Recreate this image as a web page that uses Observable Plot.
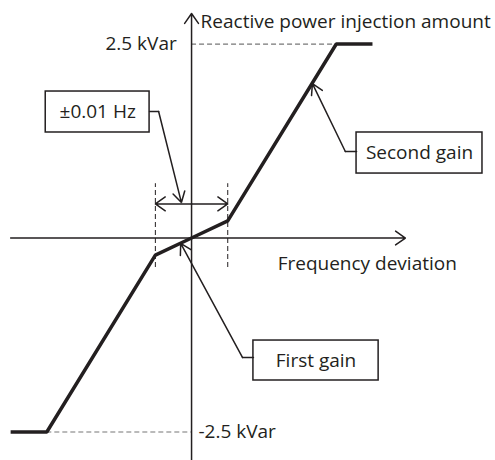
<!DOCTYPE html>
<html><head><meta charset="utf-8">
<script src="https://cdn.jsdelivr.net/npm/d3@7"></script>
<script src="https://cdn.jsdelivr.net/npm/@observablehq/plot@0.6"></script>
<style>body{margin:0;background:#fff}</style>
</head><body><div id="chart"></div>
<script>
// Characteristic: frequency deviation (Hz) -> reactive power injection (kVar)
const freqDev = [-0.05, -0.04, -0.01, 0, 0.01, 0.04, 0.05];
const reactivePower = [-2.5, -2.5, -0.22, 0, 0.22, 2.5, 2.5];
const deadBand = [-0.01, 0.01];
const limits = [2.5, -2.5];
const limitLabels = ["2.5 kVar", "-2.5 kVar"];
const axisTitles = ["Reactive power injection amount", "Frequency deviation"];
const calloutLabels = ["±0.01 Hz", "Second gain", "First gain"];

// annotation placement (data units)
const boxX1 = [-0.0403, 0.0456, 0.0171];
const boxX2 = [-0.0116, 0.0804, 0.0517];
const boxY1 = [1.888, 1.36, -1.321];
const boxY2 = [1.36, 0.831, -1.836];
const elbowX = [-0.0091, 0.0425, 0.0141];
const elbowY = [1.63, 1.115, -1.54];
const tipX = [-0.0028, 0.0334, -0.0030];
const tipY = [0.457, 1.99, -0.07];

const ink = "#231f20";
const curve = freqDev.map((x, i) => ({x, y: reactivePower[i]}));
const boxes = calloutLabels.map((t, i) => ({t, x1: boxX1[i], x2: boxX2[i], y1: boxY1[i], y2: boxY2[i],
  xs: i === 0 ? boxX2[i] : boxX1[i], ex: elbowX[i], ey: elbowY[i], tx: tipX[i], ty: tipY[i]}));
const leaderPts = boxes.flatMap((b, i) => [{i, x: b.xs, y: b.ey}, {i, x: b.ex, y: b.ey}]);

const xMin = -0.0528, xMax = 0.0840, yMin = -2.867, yMax = 3.061;
const font = "Open Sans";
const fs = 19;

const chart = Plot.plot({
  width: 495, height: 460,
  marginLeft: 0, marginRight: 0, marginTop: 0, marginBottom: 0,
  x: {domain: [xMin, xMax], axis: null},
  y: {domain: [yMin, yMax], axis: null},
  style: {fontFamily: font, background: "#fff"},
  marks: [
    // dashed guides
    Plot.ruleY(limits, {y: d => d, x1: (d) => d > 0 ? 0 : -0.04, x2: (d) => d > 0 ? 0.04 : 0,
      stroke: "#777", strokeWidth: 1.2, strokeDasharray: "5,3"}),
    Plot.ruleX(deadBand, {x: d => d, y1: -0.38, y2: 0.70, stroke: ink, strokeWidth: 1, strokeDasharray: "5,3"}),
    // axes with arrows
    Plot.arrow([0], {x1: -0.05, y1: 0, x2: 0.0591, y2: 0, stroke: ink, strokeWidth: 1.5, headLength: 12, headAngle: 70}),
    Plot.arrow([0], {x1: 0, y1: yMin, x2: 0, y2: 2.893, stroke: ink, strokeWidth: 1.5, headLength: 12, headAngle: 70}),
    // dead band double arrow
    Plot.arrow(deadBand, {x1: 0, y1: 0.44, x2: d => d, y2: 0.44, stroke: ink, strokeWidth: 1.5, headLength: 14, headAngle: 70}),
    // characteristic
    Plot.line(curve, {x: "x", y: "y", stroke: ink, strokeWidth: 3.5, strokeLinecap: "butt", strokeLinejoin: "miter"}),
    // callouts
    Plot.rect(boxes, {x1: "x1", x2: "x2", y1: "y1", y2: "y2", fill: "#fff", stroke: ink, strokeWidth: 1.5}),
    Plot.text(boxes, {x: d => (d.x1 + d.x2) / 2, y: d => (d.y1 + d.y2) / 2, text: "t", fontSize: fs, fill: ink}),
    Plot.line(leaderPts, {x: "x", y: "y", z: "i", stroke: ink, strokeWidth: 1.5}),
    Plot.arrow(boxes, {x1: "ex", y1: "ey", x2: "tx", y2: "ty", stroke: ink, strokeWidth: 1.5, headLength: 12, headAngle: 60}),
    // labels
    Plot.text([axisTitles[0]], {x: 0.0025, y: 2.78, text: d => d, textAnchor: "start", fontSize: fs, fill: ink}),
    Plot.text([axisTitles[1]], {x: 0.0238, y: -0.33, text: d => d, textAnchor: "start", fontSize: fs, fill: ink}),
    Plot.text([limits[0]], {x: -0.0041, y: d => d, text: () => limitLabels[0], textAnchor: "end", fontSize: fs, fill: ink}),
    Plot.text([limits[1]], {x: 0.0019, y: d => d, text: () => limitLabels[1], textAnchor: "start", fontSize: fs, fill: ink})
  ]
});
document.getElementById("chart").appendChild(chart);
</script>
</body></html>
